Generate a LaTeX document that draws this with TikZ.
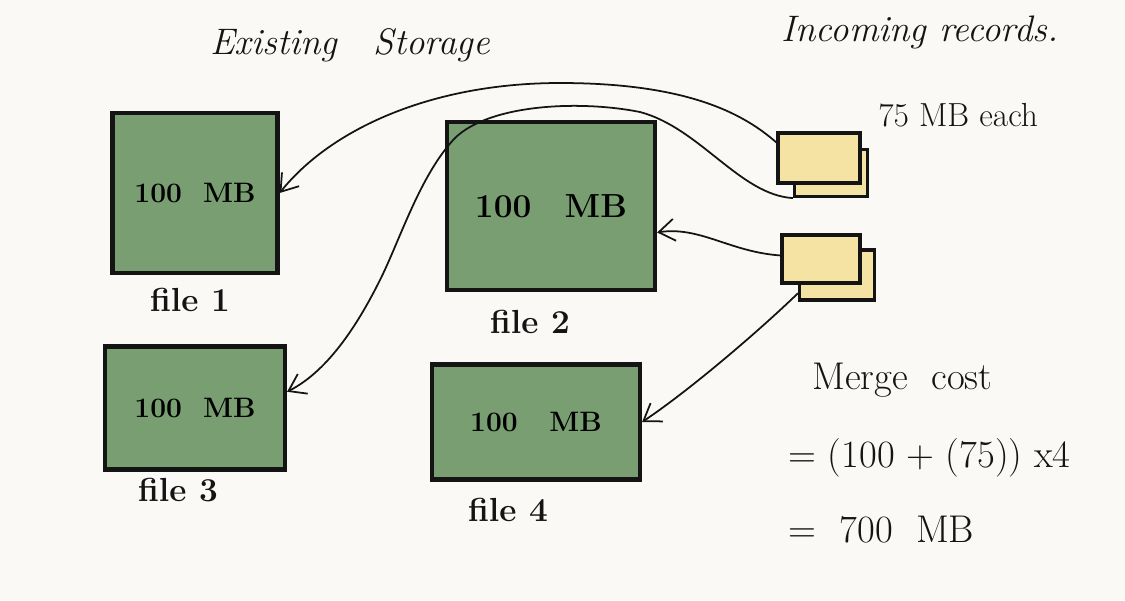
\documentclass[tikz,border=0pt]{standalone}
\usetikzlibrary{arrows.meta}
\definecolor{paper}{RGB}{250,249,246}
\definecolor{filegreen}{RGB}{121,158,113}
\definecolor{cardyellow}{RGB}{245,227,164}
\definecolor{ink}{RGB}{20,20,20}
\tikzset{
  filebox/.style={draw=ink, fill=filegreen, line width=2.4pt, inner sep=0pt, font=\fontsize{16}{16}\selectfont\bfseries},
  card/.style={draw=ink, fill=cardyellow, line width=1.8pt, inner sep=0pt},
  flow/.style={draw=ink, line width=1pt, -{Straight Barb[length=3.2mm,width=4.4mm]}},
  lbl/.style={text=ink, inner sep=0pt, font=\fontsize{19}{19}\selectfont\bfseries},
  note/.style={text=ink, inner sep=0pt, font=\fontsize{19}{19}\selectfont},
  head/.style={text=ink, inner sep=0pt, font=\fontsize{21}{21}\selectfont\itshape},
  eq/.style={text=ink, inner sep=0pt, anchor=west, font=\fontsize{22}{24}\selectfont}
}
\begin{document}
\begin{tikzpicture}[x=0.02cm, y=-0.02cm]
\fill[paper] (0,0) rectangle (1125,600);
\useasboundingbox (0,0) rectangle (1125,600);

% storage files
\node[filebox, minimum width=3.3cm, minimum height=3.2cm] (file1) at (195,193) {100\ \ MB};
\node[filebox, minimum width=4.16cm, minimum height=3.36cm, font=\fontsize{19}{19}\selectfont\bfseries] (file2) at (551,206) {100\quad MB};
\node[filebox, minimum width=3.6cm, minimum height=2.46cm] (file3) at (195,408) {100\ \ MB};
\node[filebox, minimum width=4.16cm, minimum height=2.3cm] (file4) at (536,422) {100\ \ \ MB};

\node[lbl] (l1) at (190,300) {file 1};
\node[lbl] (l2) at (530,322) {file 2};
\node[lbl] (l3) at (178,490) {file 3};
\node[lbl] (l4) at (508,510) {file 4};

% incoming record cards
\node[card, minimum width=1.46cm, minimum height=0.94cm] (card1b) at (831,173) {};
\node[card, minimum width=1.64cm, minimum height=1.0cm] (card1) at (819,158) {};
\node[card, minimum width=1.5cm, minimum height=1.0cm] (card2b) at (837,275) {};
\node[card, minimum width=1.56cm, minimum height=0.96cm] (card2) at (821,259) {};

% headings and notes
\node[head] (h1) at (350,45) {Existing\quad Storage};
\node[head] (h2) at (920,32) {Incoming records.};
\node[note, anchor=west] (each) at (878,115) {75 MB each};
\node[eq] (m1) at (812,380) {Merge\ \ cost};
\node[eq] (m2) at (788,458) {= (100 + (75)) x4};
\node[eq] (m3) at (788,530) {=\ \ 700\ \ MB};

% connectors
\draw[flow] (card1.160) .. controls (745,115) and (690,83) .. (560,83)
  .. controls (430,83) and (330,130) .. (file1.east);
\draw[flow] (card1b.south west) .. controls (740,195) and (700,128) .. (640,112)
  .. controls (580,100) and (490,104) .. (455,138)
  .. controls (420,175) and (400,240) .. (380,280)
  .. controls (360,320) and (330,370) .. (file3.10);
\draw[flow] (card2.175) .. controls (730,252) and (700,226) .. (file2.-14);
\draw[flow] (card2b.-155) .. controls (760,330) and (690,390) .. (file4.east);
\end{tikzpicture}
\end{document}
